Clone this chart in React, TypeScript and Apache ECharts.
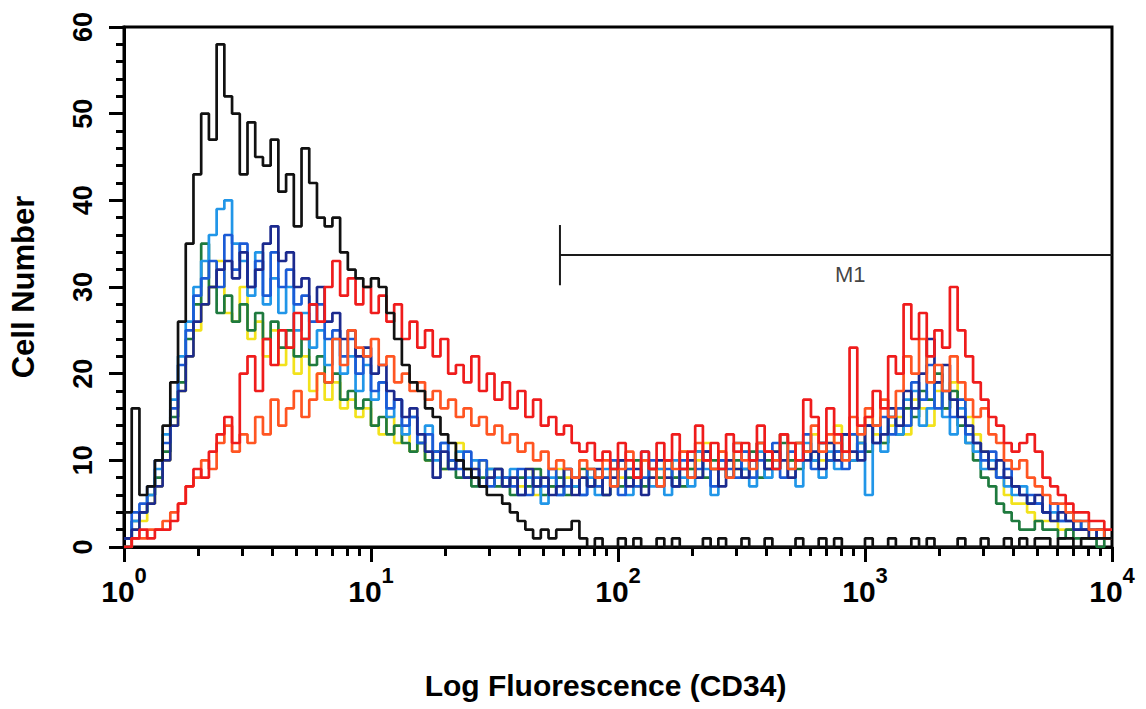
import React, { useEffect, useRef } from 'react';
import * as echarts from 'echarts';

// 128 channels over 4 decades (32 channels per decade)
const CHANNELS_PER_DECADE = 32;

const blackCounts = [
  4, 16, 6, 7, 10, 14, 19, 26, 35, 43,
  50, 47, 58, 52, 50, 43, 49, 45, 44, 47,
  41, 43, 37, 46, 42, 38, 37, 38, 34, 32,
  31, 30, 31, 30, 27, 24, 21, 19, 18, 16,
  15, 13, 12, 10, 9, 8, 7, 6, 6, 5,
  4, 3, 2, 1, 2, 1, 2, 2, 3, 1,
  0, 1, 0, 0, 1, 0, 1, 0, 0, 1,
  0, 1, 0, 0, 0, 1, 0, 1, 0, 0,
  1, 0, 0, 1, 0, 0, 0, 1, 0, 0,
  1, 0, 1, 0, 0, 0, 1, 0, 0, 1,
  0, 0, 1, 0, 1, 0, 0, 0, 1, 0,
  0, 1, 0, 0, 1, 0, 1, 0, 1, 1,
  0, 1, 1, 0, 1, 1, 1, 1,
];

const skyBlueCounts = [
  0, 3, 4, 6, 9, 13, 17, 22, 26, 30,
  33, 36, 39, 40, 35, 33, 29, 34, 28, 31,
  27, 30, 25, 27, 23, 25, 21, 24, 20, 22,
  18, 21, 17, 19, 15, 17, 13, 15, 12, 14,
  10, 12, 9, 11, 8, 10, 7, 9, 8, 7,
  9, 6, 8, 7, 5, 8, 6, 9, 7, 6,
  8, 6, 9, 7, 10, 6, 8, 11, 7, 9,
  6, 10, 8, 7, 11, 9, 6, 10, 8, 12,
  9, 7, 11, 8, 10, 13, 9, 7, 12, 10,
  8, 11, 9, 13, 10, 12, 6, 14, 11, 15,
  13, 17, 18, 14, 16, 19, 15, 13, 16, 12,
  11, 9, 10, 8, 7, 6, 7, 5, 5, 4,
  4, 3, 3, 2, 3, 2, 1, 1,
];

const blueCounts = [
  1, 4, 5, 7, 10, 12, 16, 21, 25, 29,
  31, 33, 30, 36, 32, 35, 30, 33, 29, 34,
  30, 32, 28, 29, 26, 28, 24, 25, 22, 24,
  20, 22, 18, 19, 16, 17, 14, 15, 12, 13,
  11, 12, 10, 9, 11, 8, 10, 7, 9, 8,
  7, 9, 6, 8, 7, 9, 6, 7, 8, 6,
  9, 7, 8, 10, 6, 9, 7, 8, 10, 7,
  9, 7, 10, 8, 9, 11, 7, 10, 9, 8,
  11, 8, 10, 9, 12, 8, 11, 10, 13, 9,
  12, 10, 11, 9, 13, 11, 14, 12, 15, 13,
  16, 14, 19, 17, 21, 16, 18, 15, 17, 13,
  12, 10, 11, 8, 9, 7, 6, 6, 5, 4,
  5, 3, 4, 3, 2, 2, 2, 1,
];

const navyCounts = [
  1, 2, 4, 5, 7, 10, 14, 18, 22, 26,
  28, 30, 32, 33, 31, 34, 30, 32, 35, 37,
  33, 34, 30, 31, 28, 30, 26, 27, 24, 25,
  22, 23, 20, 21, 18, 17, 15, 16, 13, 11,
  8, 11, 9, 10, 8, 9, 7, 8, 9, 7,
  8, 6, 9, 7, 8, 6, 7, 9, 6, 8,
  7, 9, 6, 8, 10, 7, 9, 6, 8, 10,
  8, 7, 9, 10, 8, 11, 9, 7, 10, 9,
  8, 10, 12, 9, 11, 10, 8, 12, 10, 11,
  9, 12, 10, 13, 11, 10, 14, 12, 13, 16,
  14, 18, 16, 20, 24, 19, 21, 17, 15, 14,
  12, 11, 9, 10, 8, 7, 6, 5, 6, 4,
  3, 4, 3, 2, 2, 1, 2, 1,
];

const greenCounts = [
  1, 3, 4, 6, 8, 11, 15, 19, 24, 28,
  35, 30, 27, 29, 26, 28, 25, 27, 24, 26,
  23, 25, 22, 24, 21, 22, 19, 20, 17, 18,
  16, 17, 14, 15, 13, 14, 12, 11, 12, 10,
  11, 9, 10, 8, 9, 7, 8, 9, 7, 8,
  6, 8, 7, 9, 6, 7, 8, 6, 7, 9,
  7, 8, 6, 9, 7, 8, 10, 7, 9, 8,
  10, 8, 7, 9, 11, 8, 10, 9, 8, 10,
  9, 11, 8, 10, 9, 12, 10, 9, 11, 10,
  12, 10, 11, 13, 10, 12, 11, 14, 12, 15,
  13, 16, 15, 18, 17, 20, 16, 18, 14, 12,
  10, 8, 7, 5, 4, 3, 2, 2, 3, 2,
  2, 1, 2, 1, 1, 1, 0, 1,
];

const yellowCounts = [
  0, 2, 3, 5, 7, 10, 14, 18, 22, 25,
  28, 30, 33, 27, 26, 30, 24, 26, 22, 25,
  21, 23, 20, 22, 18, 20, 17, 19, 16, 17,
  15, 16, 14, 13, 15, 12, 13, 11, 12, 10,
  11, 9, 10, 12, 8, 9, 10, 8, 9, 7,
  8, 7, 9, 6, 8, 7, 9, 8, 7, 8,
  9, 7, 8, 10, 8, 9, 7, 10, 8, 9,
  10, 8, 11, 9, 10, 12, 9, 11, 10, 9,
  11, 10, 12, 9, 11, 13, 10, 12, 11, 13,
  10, 12, 14, 11, 13, 12, 15, 13, 12, 14,
  15, 13, 17, 16, 14, 18, 16, 19, 17, 15,
  13, 11, 9, 8, 6, 5, 5, 4, 3, 3,
  3, 2, 2, 3, 2, 1, 1, 1,
];

const redCounts = [
  0, 1, 2, 1, 2, 2, 3, 5, 7, 9,
  8, 11, 13, 15, 12, 20, 22, 18, 24, 21,
  25, 23, 27, 24, 28, 26, 30, 33, 29, 31,
  28, 30, 27, 29, 26, 28, 24, 26, 23, 25,
  22, 24, 20, 21, 19, 22, 18, 20, 17, 19,
  16, 18, 15, 17, 14, 15, 13, 14, 12, 11,
  12, 10, 11, 9, 12, 10, 8, 11, 9, 12,
  10, 13, 9, 11, 14, 10, 12, 9, 13, 11,
  12, 10, 14, 11, 9, 13, 12, 10, 17, 15,
  12, 16, 13, 11, 23, 14, 15, 18, 16, 22,
  20, 28, 24, 27, 22, 25, 23, 30, 25, 22,
  19, 17, 15, 14, 12, 11, 12, 13, 11, 8,
  7, 6, 5, 4, 4, 3, 3, 2,
];

const orangeCounts = [
  0, 1, 1, 2, 2, 3, 4, 5, 7, 8,
  10, 9, 12, 14, 11, 13, 12, 15, 13, 17,
  14, 16, 18, 15, 17, 20, 19, 24, 21, 25,
  23, 22, 24, 21, 22, 19, 20, 18, 19, 17,
  18, 16, 17, 15, 16, 14, 15, 13, 14, 12,
  13, 11, 12, 10, 11, 9, 10, 9, 8, 10,
  9, 8, 10, 7, 9, 11, 8, 10, 9, 7,
  10, 9, 11, 8, 12, 10, 9, 11, 8, 12,
  10, 9, 12, 11, 10, 13, 9, 12, 11, 14,
  11, 13, 12, 10, 15, 13, 16, 14, 17, 15,
  18, 22, 20, 24, 19, 21, 18, 22, 19, 17,
  15, 16, 13, 12, 10, 9, 10, 8, 7, 6,
  5, 5, 4, 3, 3, 2, 2, 1,
];

// M1 marker (x in log10 units, y in counts)
const markerStart = 1.765;
const markerEnd = 4;
const markerLevel = 33.7;
const markerTickLow = 30.2;
const markerTickHigh = 37.15;
const markerLabel = 'M1';
const markerLabelPos = [2.94, 31.4];

const decadeTicks = [0, 1, 2, 3, 4];
const countTicks = [0, 10, 20, 30, 40, 50, 60];

const seriesDefs = [
  { name: 'Yellow', color: '#f2e21c', data: yellowCounts },
  { name: 'Green', color: '#1e7a3e', data: greenCounts },
  { name: 'Sky blue', color: '#2196e8', data: skyBlueCounts },
  { name: 'Blue', color: '#1b5bd6', data: blueCounts },
  { name: 'Navy', color: '#1c2a8e', data: navyCounts },
  { name: 'Orange', color: '#ff5522', data: orangeCounts },
  { name: 'Red', color: '#ef1c1c', data: redCounts },
  { name: 'Black', color: '#111111', data: blackCounts },
];

function toSteps(values: number[]) {
  const pts = values.map((v, i) => [i / CHANNELS_PER_DECADE, v]);
  pts.push([values.length / CHANNELS_PER_DECADE, values[values.length - 1]]);
  return pts;
}

const minorTickValues: number[] = [];
for (let d = decadeTicks[0]; d < decadeTicks[decadeTicks.length - 1]; d++) {
  for (let k = 2; k <= 9; k++) minorTickValues.push(d + Math.log10(k));
}

const FONT = '"Liberation Sans", Arial, Helvetica, sans-serif';

export default function App() {
  const ref = useRef<HTMLDivElement>(null);
  useEffect(() => {
    if (!ref.current) return;
    const chart = echarts.init(ref.current, undefined, { renderer: 'svg' });
    const lineSeries = seriesDefs.map((s) => ({
      name: s.name,
      type: 'line',
      step: 'end',
      symbol: 'none',
      data: toSteps(s.data),
      lineStyle: { color: s.color, width: 2.7 },
      itemStyle: { color: s.color },
      silent: true,
      clip: true,
    }));
    chart.setOption({
      animation: false,
      backgroundColor: '#ffffff',
      grid: {
        left: 121,
        right: 34,
        top: 27,
        bottom: 162,
        show: true,
        borderColor: '#000',
        borderWidth: 3,
        backgroundColor: 'transparent',
      },
      xAxis: [
        {
          type: 'value',
          min: decadeTicks[0],
          max: decadeTicks[decadeTicks.length - 1],
          interval: 1,
          name: 'Log Fluorescence (CD34)',
          nameLocation: 'middle',
          nameGap: 123,
          nameTextStyle: {
            fontFamily: FONT,
            fontWeight: 'bold',
            fontSize: 30,
            color: '#000',
            padding: [0, 25, 0, 0],
          },
          axisLine: { show: true, lineStyle: { color: '#000', width: 3 } },
          axisTick: { show: true, length: 15, lineStyle: { color: '#000', width: 3 } },
          splitLine: { show: false },
          axisLabel: {
            margin: 17,
            formatter: (v: number) => `{a|10}{b|${v}}`,
            rich: {
              a: { fontFamily: FONT, fontWeight: 'bold', fontSize: 30, color: '#000', lineHeight: 42, verticalAlign: 'bottom' },
              b: { fontFamily: FONT, fontWeight: 'bold', fontSize: 22, color: '#000', lineHeight: 22, verticalAlign: 'top' },
            },
          },
        },
        {
          type: 'value',
          min: decadeTicks[0],
          max: decadeTicks[decadeTicks.length - 1],
          position: 'bottom',
          axisLine: { show: false },
          axisLabel: { show: false },
          splitLine: { show: false },
          axisTick: {
            show: true,
            length: 9,
            customValues: minorTickValues,
            lineStyle: { color: '#000', width: 3 },
          },
        },
      ],
      yAxis: {
        type: 'value',
        min: countTicks[0],
        max: countTicks[countTicks.length - 1],
        interval: 10,
        name: 'Cell Number',
        nameLocation: 'middle',
        nameGap: 85,
        nameTextStyle: { fontFamily: FONT, fontWeight: 'bold', fontSize: 31, color: '#000' },
        axisLine: { show: true, lineStyle: { color: '#000', width: 3 } },
        axisTick: { show: true, length: 15, lineStyle: { color: '#000', width: 3 } },
        minorTick: { show: true, splitNumber: 5, length: 8, lineStyle: { color: '#000', width: 3 } },
        splitLine: { show: false },
        minorSplitLine: { show: false },
        axisLabel: {
          rotate: 90,
          margin: 28,
          fontFamily: FONT,
          fontWeight: 'bold',
          fontSize: 27,
          color: '#000',
        },
      },
      series: [
        ...lineSeries,
        {
          name: 'M1 bar',
          type: 'line',
          symbol: 'none',
          silent: true,
          data: [
            [markerStart, markerLevel],
            [markerEnd, markerLevel],
          ],
          lineStyle: { color: '#1a1a1a', width: 2 },
          z: 5,
        },
        {
          name: 'M1 tick',
          type: 'line',
          symbol: 'none',
          silent: true,
          data: [
            [markerStart, markerTickLow],
            [markerStart, markerTickHigh],
          ],
          lineStyle: { color: '#1a1a1a', width: 2 },
          z: 5,
        },
        {
          name: 'M1 label',
          type: 'scatter',
          symbolSize: 0,
          silent: true,
          data: [markerLabelPos],
          label: {
            show: true,
            position: 'inside',
            formatter: markerLabel,
            fontFamily: FONT,
            fontSize: 22,
            color: '#111',
          },
          z: 6,
        },
      ],
    });
    return () => chart.dispose();
  }, []);
  return (
    <div
      ref={ref}
      style={{ position: 'absolute', left: 0, top: 0, width: '1146px', height: '709px', background: '#fff' }}
    />
  );
}
